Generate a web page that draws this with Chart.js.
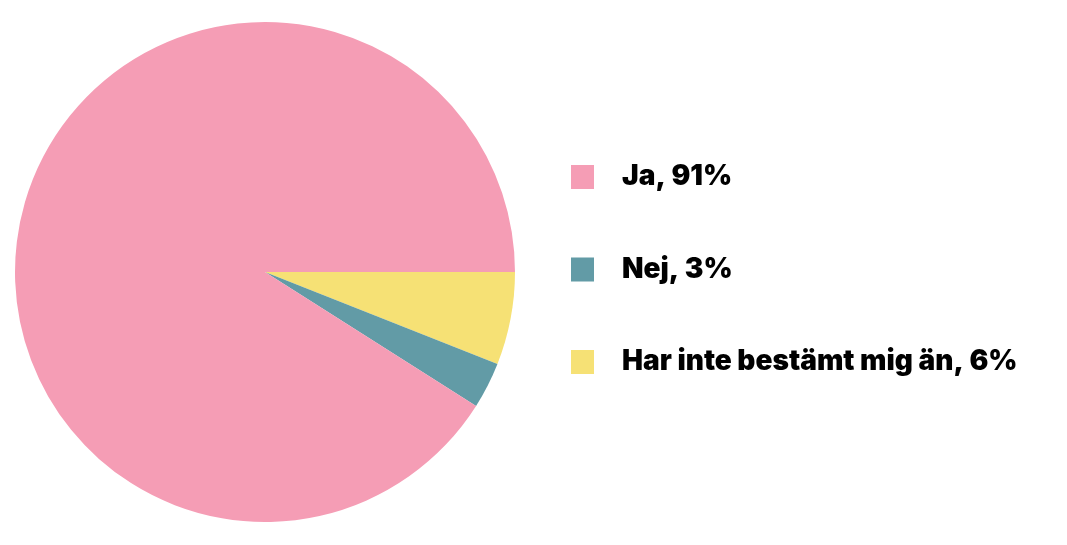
<!DOCTYPE html>
<html>
<head>
<meta charset="utf-8">
<script src="https://cdn.jsdelivr.net/npm/chart.js@4"></script>
<style>
  html, body { margin: 0; padding: 0; background: #fff; }
  #wrap { width: 1067px; height: 545px; }
</style>
</head>
<body>
<div id="wrap"><canvas id="pieChart"></canvas></div>
<script>
const svar = ["Ja", "Nej", "Har inte bestämt mig än"];
const andel = [91, 3, 6];
const farger = ["#f59db5", "#629ba6", "#f6e175"];

const fontSize = 28;
const fontFamily = "Inter, 'Noto Sans', sans-serif";
const legendPad = 50;
const boxW = 23;

// text som array => radhöjden styr avståndet mellan raderna i legenden
const etikett = i => ['\u2002' + svar[i] + ', ' + andel[i] + '%'];

// legendens bredd styr var cirkeln hamnar, så mät texten först
const mctx = document.createElement('canvas').getContext('2d');
mctx.font = `900 ${fontSize}px ${fontFamily}`;
const maxText = Math.max(...svar.map((s, i) => mctx.measureText(etikett(i)[0]).width));
const legendW = legendPad + boxW + fontSize / 2 + maxText + 10;
const padLeft = 9, areaW = 512;
const padRight = Math.max(0, 1067 - padLeft - areaW - legendW);

// ritas medurs från klockan tre, så ordningen vänds
const ctx = document.getElementById('pieChart').getContext('2d');
new Chart(ctx, {
  type: 'pie',
  data: {
    labels: svar.slice().reverse(),
    datasets: [{
      data: andel.slice().reverse(),
      backgroundColor: farger.slice().reverse(),
      borderWidth: 0,
      radius: 250
    }]
  },
  options: {
    responsive: true,
    maintainAspectRatio: false,
    animation: false,
    rotation: 90,
    layout: { padding: { left: padLeft, top: 0, right: padRight, bottom: 1 } },
    plugins: {
      tooltip: { enabled: false },
      legend: {
        position: 'right',
        align: 'center',
        title: { display: true, text: ' ', padding: 0, font: { size: 10, lineHeight: 0.95 } },
        labels: {
          boxWidth: boxW,
          boxHeight: 24,
          padding: legendPad,
          color: '#000',
          font: { family: fontFamily, size: fontSize, weight: '900', lineHeight: '42.5px' },
          generateLabels: () => svar.map((s, i) => ({
            text: etikett(i),
            fillStyle: farger[i],
            strokeStyle: farger[i],
            lineWidth: 0,
            fontColor: '#000',
            hidden: false,
            index: i
          }))
        }
      }
    }
  }
});
</script>
</body>
</html>
